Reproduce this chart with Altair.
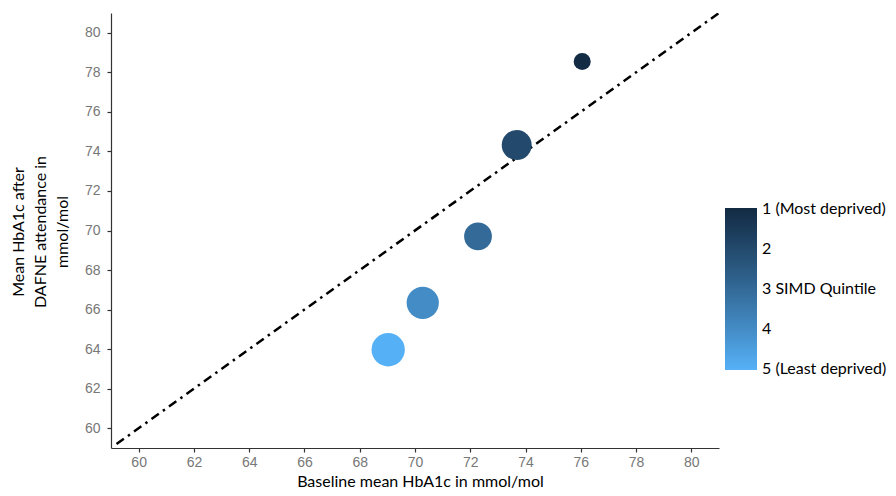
import altair as alt
import pandas as pd

# Data
quintile = [1, 2, 3, 4, 5]
baseline = [76.05, 73.68, 72.28, 70.28, 69.03]
after = [78.55, 74.32, 69.70, 66.34, 63.97]
n_patients = [29, 90, 77, 104, 111]

line_x = [59.2, 81.0]

x_ticks = [60, 62, 64, 66, 68, 70, 72, 74, 76, 78, 80]
y_ticks = [60, 62, 64, 66, 68, 70, 72, 74, 76, 78, 80]

df = pd.DataFrame({"q": quintile, "base": baseline, "after": after, "n": n_patients})
ldf = pd.DataFrame({"base": line_x, "after": line_x})

W, H = 608, 435
TICK_FONT = "Liberation Sans"
TEXT_FONT = "Lato"

xscale = alt.Scale(domain=[59, 81], nice=False, zero=False)
yscale = alt.Scale(domain=[59, 81], nice=False, zero=False)

x_axis = alt.Axis(
    values=x_ticks, title="Baseline mean HbA1c in mmol/mol", grid=False,
    titleFont=TEXT_FONT, titleFontSize=16, titleFontWeight="normal", titleColor="black",
    titleX=309, titleY=38, titleBaseline="alphabetic", titleAlign="center",
    labelFont=TICK_FONT, labelFontSize=14, labelColor="#777777", labelPadding=3,
    tickSize=4, tickColor="#333333", domainColor="#333333",
)
y_axis = alt.Axis(
    values=y_ticks, title=["Mean HbA1c after", "DAFNE attendance in", "mmol/mol"], grid=False,
    titleFont=TEXT_FONT, titleFontSize=16, titleFontWeight="normal", titleColor="black",
    titleX=-93, titleY=H / 2 + 1, titleAngle=270, titleAlign="center", titleBaseline="middle",
    titleLineHeight=22,
    labelFont=TICK_FONT, labelFontSize=14, labelColor="#777777", labelPadding=7,
    tickSize=4, tickColor="#333333", domainColor="#333333",
)

line = alt.Chart(ldf).mark_line(
    color="black", strokeWidth=2.5, strokeDash=[9, 5, 2.5, 5], clip=True
).encode(
    x=alt.X("base:Q", scale=xscale, axis=x_axis),
    y=alt.Y("after:Q", scale=yscale, axis=y_axis),
)

label_expr = (
    "datum.value == -1 ? '1  (Most deprived)' : datum.value == -3 ? '3 SIMD Quintile' : "
    "datum.value == -5 ? '5 (Least deprived)' : format(-datum.value, 'd')"
)

points = alt.Chart(df).transform_calculate(
    negq="-datum.q"
).mark_circle(opacity=1).encode(
    x=alt.X("base:Q", scale=xscale),
    y=alt.Y("after:Q", scale=yscale),
    color=alt.Color(
        "negq:Q",
        scale=alt.Scale(domain=[-5.02, -0.98], range=["#56B1F7", "#132B43"], interpolate="lab"),
        title=None,
        legend=alt.Legend(
            orient="none", legendX=614, legendY=195, direction="vertical",
            gradientLength=162, gradientThickness=32, gradientStrokeWidth=0,
            values=[-5, -4, -3, -2, -1], labelExpr=label_expr, labelFont=TEXT_FONT,
            labelFontSize=16, labelColor="black", labelOffset=5, padding=0,
            labelOverlap=False,
        ),
    ),
    size=alt.Size("n:Q", scale=alt.Scale(domain=[0, 120], range=[0, 1200]), legend=None),
)

chart = (
    alt.layer(line, points)
    .properties(
        width=W, height=H,
        autosize=alt.AutoSizeParams(type="none"),
        padding={"left": 103, "top": 5, "right": 169, "bottom": 40},
    )
    .configure_view(stroke=None)
    .configure_axis(domainWidth=1.2, tickWidth=1.2)
)

chart.save("out.html", embed_options={"renderer": "svg", "actions": False})
